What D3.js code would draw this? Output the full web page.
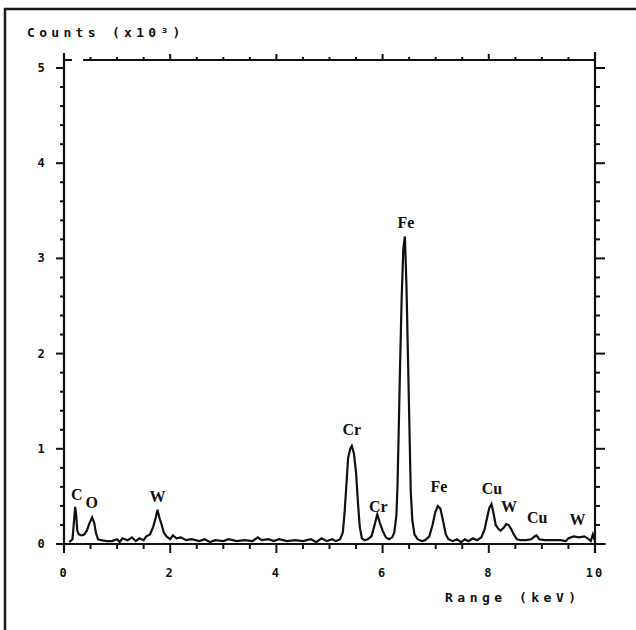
<!DOCTYPE html>
<html>
<head>
<meta charset="utf-8">
<script src="https://cdn.jsdelivr.net/npm/d3@7"></script>
<style>
  html, body { margin: 0; padding: 0; background: #fff; }
  svg { display: block; }
</style>
</head>
<body>
<script>
// ---------- DATA ----------
const xTickValues = [0, 2, 4, 6, 8, 10];
const yTickValues = [0, 1, 2, 3, 4, 5];
const yAxisTitle = "Counts (x10\u00B3)";
const xAxisTitle = "Range (keV)";

// spectrum: energy (keV), counts (x10^3)
const energy = [
  0.10, 0.16, 0.19, 0.21, 0.23, 0.25, 0.28, 0.33, 0.38, 0.43, 0.48, 0.53, 0.57, 0.60, 0.64,
  0.70, 0.80, 0.90, 1.00, 1.05, 1.10, 1.20, 1.28, 1.35, 1.42, 1.50, 1.55, 1.62, 1.68, 1.73,
  1.76, 1.80, 1.84, 1.88, 1.93, 2.00, 2.05, 2.12, 2.20, 2.30, 2.40, 2.55, 2.65, 2.75, 2.85,
  3.00, 3.10, 3.25, 3.40, 3.55, 3.65, 3.72, 3.85, 3.95, 4.05, 4.20, 4.35, 4.50, 4.65, 4.75,
  4.85, 4.95, 5.05, 5.12, 5.20, 5.25, 5.28, 5.31, 5.35, 5.39, 5.42, 5.46, 5.50, 5.54, 5.57,
  5.61, 5.66, 5.72, 5.79, 5.84, 5.90, 5.95, 6.00, 6.06, 6.12, 6.18, 6.22, 6.26, 6.28, 6.30,
  6.33, 6.36, 6.39, 6.42, 6.45, 6.48, 6.51, 6.53, 6.56, 6.60, 6.66, 6.74, 6.80, 6.88, 6.94,
  6.99, 7.04, 7.09, 7.14, 7.19, 7.24, 7.32, 7.40, 7.48, 7.55, 7.62, 7.70, 7.78, 7.86, 7.92,
  7.97, 8.01, 8.05, 8.09, 8.13, 8.18, 8.22, 8.28, 8.33, 8.37, 8.42, 8.47, 8.53, 8.60, 8.70,
  8.80, 8.86, 8.90, 8.95, 9.05, 9.20, 9.35, 9.45, 9.50, 9.60, 9.70, 9.80, 9.86, 9.92, 9.96,
  10.0
];
const counts = [
  0.02, 0.05, 0.25, 0.39, 0.30, 0.14, 0.10, 0.09, 0.10, 0.14, 0.22, 0.28, 0.22, 0.12, 0.05,
  0.04, 0.03, 0.03, 0.05, 0.02, 0.06, 0.04, 0.07, 0.03, 0.06, 0.04, 0.08, 0.10, 0.18, 0.28,
  0.36, 0.27, 0.20, 0.12, 0.08, 0.05, 0.09, 0.06, 0.07, 0.04, 0.05, 0.03, 0.05, 0.02, 0.04,
  0.03, 0.05, 0.03, 0.04, 0.03, 0.07, 0.04, 0.05, 0.03, 0.05, 0.03, 0.04, 0.03, 0.05, 0.02,
  0.06, 0.03, 0.05, 0.03, 0.05, 0.12, 0.30, 0.55, 0.90, 1.00, 1.03, 0.95, 0.75, 0.40, 0.18,
  0.06, 0.04, 0.05, 0.08, 0.18, 0.31, 0.22, 0.14, 0.07, 0.05, 0.07, 0.12, 0.30, 0.60, 1.10,
  1.90, 2.60, 3.10, 3.23, 2.70, 1.90, 1.10, 0.55, 0.25, 0.10, 0.05, 0.03, 0.04, 0.08, 0.20,
  0.33, 0.40, 0.37, 0.24, 0.10, 0.05, 0.03, 0.05, 0.02, 0.05, 0.03, 0.06, 0.04, 0.07, 0.15,
  0.28, 0.38, 0.42, 0.32, 0.20, 0.16, 0.14, 0.17, 0.21, 0.20, 0.16, 0.10, 0.05, 0.04, 0.04,
  0.05, 0.08, 0.09, 0.05, 0.04, 0.04, 0.04, 0.03, 0.06, 0.08, 0.07, 0.08, 0.06, 0.03, 0.10,
  0.03
];

// peak annotations
const peakNames  = ["C", "O", "W", "Cr", "Cr", "Fe", "Fe", "Cu", "W", "Cu", "W"];
const peakEnergy = [0.24, 0.52, 1.76, 5.42, 5.92, 6.44, 7.06, 8.06, 8.38, 8.91, 9.67];
const peakLabelY = [0.46, 0.38, 0.44, 1.15, 0.34, 3.32, 0.55, 0.52, 0.34, 0.22, 0.20];

// ---------- CHART ----------
const W = 636, H = 630;
const svg = d3.select("body").append("svg").attr("width", W).attr("height", H);

// outer frame (extends past right and bottom edges)
svg.append("rect")
  .attr("x", 5).attr("y", 9).attr("width", 700).attr("height", 700)
  .attr("fill", "none").attr("stroke", "#1a1a1a").attr("stroke-width", 2.5);

const x = d3.scaleLinear().domain([0, 10]).range([64, 595]);
const y = d3.scaleLinear().domain([0, 5]).range([544, 68]);

const ink = "#111";
const g = svg.append("g").attr("stroke", ink).attr("fill", "none");

// ---- x axis (bottom) ----
g.append("line").attr("x1", x(-0.15)).attr("x2", x(10.2))
  .attr("y1", y(0)).attr("y2", y(0)).attr("stroke-width", 2.2);
const xMinor = d3.range(0, 10.01, 0.5);
g.selectAll(".xb").data(xMinor).join("line")
  .attr("x1", d => x(d)).attr("x2", d => x(d))
  .attr("y1", y(0)).attr("y2", d => y(0) + (Math.abs(d % 2) < 1e-6 ? 9 : 5))
  .attr("stroke-width", 2);

// ---- top axis ----
g.append("line").attr("x1", x(0.36)).attr("x2", x(10))
  .attr("y1", 60).attr("y2", 60).attr("stroke-width", 2);
g.append("line").attr("x1", x(0)).attr("x2", x(0.15))
  .attr("y1", 60).attr("y2", 60).attr("stroke-width", 2);
g.selectAll(".xt").data(xMinor.filter(d => d > 0.4)).join("line")
  .attr("x1", d => x(d)).attr("x2", d => x(d))
  .attr("y1", 60).attr("y2", d => 60 - (Math.abs(d % 2) < 1e-6 ? 6 : 3))
  .attr("stroke-width", 2);

// ---- left y axis ----
g.append("line").attr("x1", x(0)).attr("x2", x(0))
  .attr("y1", 53).attr("y2", y(0) + 6).attr("stroke-width", 2.2);
const yMinor = d3.range(0, 5.001, 0.2);
const isMajor = d => Math.abs(d - Math.round(d)) < 1e-6;
g.selectAll(".yl").data(yMinor).join("line")
  .attr("x1", x(0)).attr("x2", d => x(0) - (isMajor(d) ? 8 : 4))
  .attr("y1", d => y(d)).attr("y2", d => y(d))
  .attr("stroke-width", 2);

// ---- right y axis ----
g.append("line").attr("x1", x(10)).attr("x2", x(10))
  .attr("y1", 52).attr("y2", y(0) + 9).attr("stroke-width", 2.2);
g.selectAll(".yr").data(yMinor).join("line")
  .attr("x1", x(10)).attr("x2", d => x(10) + (isMajor(d) ? 10 : 5))
  .attr("y1", d => y(d)).attr("y2", d => y(d))
  .attr("stroke-width", 2);

// ---- tick labels ----
const tickFont = "'DejaVu Sans Mono', monospace";
svg.selectAll(".xl").data(xTickValues).join("text")
  .attr("x", d => x(d)).attr("y", 577)
  .attr("text-anchor", "middle")
  .attr("font-family", tickFont).attr("font-weight", "bold").attr("font-size", 12)
  .attr("letter-spacing", 2)
  .attr("fill", ink).text(d => d);
svg.selectAll(".ylab").data(yTickValues).join("text")
  .attr("x", 41).attr("y", d => y(d) + 4)
  .attr("text-anchor", "middle")
  .attr("font-family", tickFont).attr("font-weight", "bold").attr("font-size", 12)
  .attr("fill", ink).text(d => d);

// ---- axis titles ----
svg.append("text").attr("x", 27).attr("y", 37)
  .attr("font-family", tickFont).attr("font-weight", "bold").attr("font-size", 13)
  .attr("letter-spacing", 4.3).attr("fill", ink).text(yAxisTitle);
svg.append("text").attr("x", 445).attr("y", 602)
  .attr("font-family", tickFont).attr("font-weight", "bold").attr("font-size", 13)
  .attr("letter-spacing", 4.5).attr("fill", ink).text(xAxisTitle);

// ---- spectrum ----
const spectrum = energy.map((e, i) => [e, counts[i]]);
svg.append("path").datum(spectrum)
  .attr("fill", "none").attr("stroke", ink).attr("stroke-width", 2.2)
  .attr("stroke-linejoin", "miter")
  .attr("d", d3.line().x(d => x(d[0])).y(d => y(d[1])));

// ---- peak labels ----
svg.selectAll(".pk").data(peakNames).join("text")
  .attr("x", (d, i) => x(peakEnergy[i]))
  .attr("y", (d, i) => y(peakLabelY[i]))
  .attr("text-anchor", "middle")
  .attr("font-family", "'Liberation Serif', 'DejaVu Serif', serif")
  .attr("font-weight", "bold").attr("font-size", 16)
  .attr("fill", ink).text(d => d);
</script>
</body>
</html>
